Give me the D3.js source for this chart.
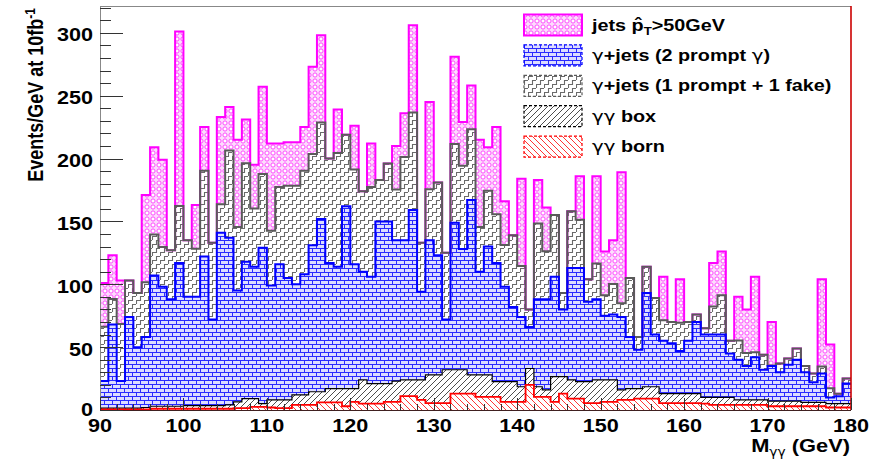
<!DOCTYPE html>
<html><head><meta charset="utf-8">
<script src="https://cdn.jsdelivr.net/npm/d3@7"></script>
<style>
body{margin:0;background:#fff}
svg{display:block}
text{font-family:"Liberation Sans",Arial,Helvetica,sans-serif;font-weight:bold;fill:#000}
.gr{font-family:"DejaVu Sans",sans-serif;font-weight:normal}
</style>
</head><body>
<svg id="c" width="869" height="461"></svg>
<script>
// ---- data: 1 GeV bins from 90 to 180 GeV, Events/GeV at 10 fb^-1 ----
const binLow = d3.range(90, 180);

const born = [0.5,0.5,0.5,0.5,0.5,0.5,1,1,1,1, 1,1,1,1,1,1,1.5,1.5,2.5,2.5,
  2,1.5,1.5,4,4,4,6,6,6,3, 6.5,5,5,5,6.5,6.5,11,11,8,5.5,
  5.5,5.5,13,13,13,10.5,10.5,10.5,6.5,6.5, 6.5,20,10.5,10.5,6.5,13,9,9,5.5,5.5,
  6.5,6.5,8,8,9,9,9,5.5,5.5,5.5, 5.5,5.5,5,4,4,4,4,4,4,4, 3,3,3,3,3,3,3,2,2,2];

const box = [1,1,1,1,1,1.5,2,2,2,2, 2.5,2.5,2.5,2.5,2.5,3,5,7.5,6.5,2.5,
  6,6.5,6.5,8,8,10.5,8.5,11,11,14, 10.5,19,16,16,14.5,16.5,13,13,16,22.5,
  22.5,26.5,19,19,15,17.5,17.5,12,16,16, 12,13,8,5.5,20,13.5,15,13.5,17,18.5,
  17.5,17.5,8,9,8,9.5,9.5,7.5,7.5,7.5, 7.5,7.5,5,6,6,6,4,4,4,4, 4,4,4,4,3,3,3,3,3,3];

const prompt = [21.5,66.5,21.5,72.5,48.5,56,104,95,85,114,
  86.5,86.5,118.5,68.5,137.5,133,88.5,109,105,124,
  91,108,97,88,96,116.5,137.5,100,97,145,
  99,86,85,129,129,112,111,135,70,107,
  95,40,117,96,139,82,102,94.5,75.5,59.5,
  55.5,33,69.5,72,79.5,53.5,89,90.5,63.5,64,
  51,52,58,41,31,74.5,41.5,42,40,34,
  42,57,50,50,50,35,32,27,34,24,
  28,23,29,33,24,16,23,5,6,16];

const fake = [43.3,20.3,45.3,29,43,43.6,32.6,31.6,39,45.2,
  45,38.3,68.3,61,22.6,69.3,50.6,78.3,46.3,58.6,
  43.6,61.3,73.3,78.3,82.3,72.6,76.6,83,90.3,57,
  75.3,64,71.3,33,46,40.3,66.3,77.6,39,40.6,
  58,53,62.6,66.3,56.3,35.6,44.3,38.6,33.3,57,
  40.6,14,60.3,38.3,49,13,45,38.3,18,28.6,
  16.3,24.3,10.9,47,10,21,29,16.3,17,22.3,
  15,6,5,22.3,31.3,10,15.3,10.3,4,12,
  0.3,7,5,9,5,7,5.6,7.3,2,4];

const jets = [34.7,34.7,34.7,0,0,69.4,69.4,69.4,0,138.8,
  0,34.7,34.7,0,69.4,34.7,69.4,34.7,34.7,69.4,
  69.4,34.7,34.7,34.7,34.7,69.4,69.4,0,34.7,0,
  34.7,0,34.7,0,0,34.7,34.7,69.4,0,69.4,
  0,0,69.4,34.7,34.7,69.4,34.7,69.4,34.7,0,
  69.4,0,34.7,34.7,0,0,0,34.7,0,69.4,
  34.7,34.7,104.1,0,0,0,0,34.7,0,34.7,
  0,0,0,34.7,34.7,0,34.7,34.7,60,0,
  34.7,0,0,0,0,0,69.4,34.7,0,0];

const seriesKeys = ["born","box","prompt","fake","jets"];
const xTickLabels = [90,100,110,120,130,140,150,160,170,180];
const yTickLabels = [0,50,100,150,200,250,300];
const yMax = 321.3;

// ---- layout ----
const L = 100, R = 851, T = 6, B = 410;
const svg = d3.select("#c");
const x = d3.scaleLinear().domain([90,180]).range([L,R]);
const y = d3.scaleLinear().domain([0,yMax]).range([B,T]);

const style = {
  jets:   {pat:"pJets",   line:"#ff00ff", w:2,   dash:null},
  prompt: {pat:"pPrompt", line:"#0000ff", w:2,   dash:"3,2"},
  fake:   {pat:"pFake",   line:"#5a5a5a", w:2,   dash:"3,2"},
  box:    {pat:"pBox",    line:"#000000", w:1.2, dash:"3,2"},
  born:   {pat:"pBorn",   line:"#ff0000", w:1.8, dash:"3,2"}
};

// ---- patterns ----
const defs = svg.append("defs");
let p = defs.append("pattern").attr("id","pJets").attr("patternUnits","userSpaceOnUse").attr("width",6).attr("height",6);
p.append("rect").attr("width",6).attr("height",6).attr("fill","#fcdcfc");
p.append("circle").attr("cx",3).attr("cy",3).attr("r",2.1).attr("fill","#fff").attr("stroke","#ff48ff").attr("stroke-width",1);

p = defs.append("pattern").attr("id","pPrompt").attr("patternUnits","userSpaceOnUse").attr("width",8).attr("height",8);
p.append("rect").attr("width",8).attr("height",8).attr("fill","#dcdcff");
p.append("path").attr("d","M0,0.5H8M0,4.5H8M0.5,0V4M4.5,4V8").attr("stroke","#2a2aff").attr("stroke-width",1).attr("fill","none");

p = defs.append("pattern").attr("id","pFake").attr("patternUnits","userSpaceOnUse").attr("width",8).attr("height",8);
p.append("rect").attr("width",8).attr("height",8).attr("fill","#fff");
p.append("path").attr("d","M0.5,8V4.5H4.5V0.5H8").attr("stroke","#6a6a6a").attr("stroke-width",1.1).attr("fill","none");

p = defs.append("pattern").attr("id","pBox").attr("patternUnits","userSpaceOnUse").attr("width",6).attr("height",6);
p.append("rect").attr("width",6).attr("height",6).attr("fill","#fff");
p.append("path").attr("d","M0,6L6,0M-1,1L1,-1M5,7L7,5").attr("stroke","#000").attr("stroke-width",0.7);

p = defs.append("pattern").attr("id","pBorn").attr("patternUnits","userSpaceOnUse").attr("width",6).attr("height",6);
p.append("rect").attr("width",6).attr("height",6).attr("fill","#fff");
p.append("path").attr("d","M0,0L6,6M5,-1L7,1M-1,5L1,7").attr("stroke","#ff0000").attr("stroke-width",0.8);

defs.append("clipPath").attr("id","plotClip").append("rect")
  .attr("x",L).attr("y",T).attr("width",R-L).attr("height",B-T);

// ---- stacked histogram ----
const rows = binLow.map((lo,i)=>({lo, born:born[i], box:box[i], prompt:prompt[i], fake:fake[i], jets:jets[i]}));
const stacked = d3.stack().keys(seriesKeys)(rows);
const stepPts = s => s.flatMap(d => [[d.data.lo, d[0], d[1]], [d.data.lo+1, d[0], d[1]]]);

const area = d3.area().x(q=>x(q[0])).y0(q=>y(q[1])).y1(q=>y(q[2]));
const line = d3.line().x(q=>x(q[0])).y(q=>y(q[2]));

const g = svg.append("g").attr("clip-path","url(#plotClip)");
stacked.forEach(s => {
  g.append("path").attr("d", area(stepPts(s))).attr("fill", `url(#${style[s.key].pat})`);
});
// outlines: largest cumulative first, like ROOT THStack
stacked.slice().reverse().forEach(s => {
  g.append("path").attr("d", line(stepPts(s))).attr("fill","none")
    .attr("stroke", style[s.key].line).attr("stroke-width", style[s.key].w);
});

// ---- frame ----
svg.append("line").attr("x1",L).attr("x2",R).attr("y1",T+0.5).attr("y2",T+0.5).attr("stroke","#888");
svg.append("line").attr("x1",L+0.5).attr("x2",L+0.5).attr("y1",T).attr("y2",B).attr("stroke","#888");
svg.append("line").attr("x1",R).attr("x2",R).attr("y1",T).attr("y2",B).attr("stroke","#cc0000").attr("stroke-width",1.6);
svg.append("line").attr("x1",L).attr("x2",R).attr("y1",B+0.5).attr("y2",B+0.5).attr("stroke","#402020").attr("stroke-width",1.2);

// ---- ticks ----
const ax = svg.append("g").attr("stroke","#333").attr("stroke-width",1);
d3.range(0, yMax, 10).forEach(v => {
  const len = (v % 50 === 0) ? 23 : 11;
  ax.append("line").attr("x1",L).attr("x2",L+len).attr("y1",Math.round(y(v))+0.5).attr("y2",Math.round(y(v))+0.5);
});
d3.range(90, 181, 2).forEach(v => {
  const len = (v % 10 === 0) ? 12 : 6;
  ax.append("line").attr("x1",Math.round(x(v))+0.5).attr("x2",Math.round(x(v))+0.5).attr("y1",B).attr("y2",B-len);
});

const SX = 1.2;
yTickLabels.forEach(v => {
  svg.append("text").attr("transform",`translate(93,${y(v)+ (v===0 ? 6 : 8.5)}) scale(${SX},1)`)
    .attr("text-anchor","end").attr("font-size",18).text(v);
});
xTickLabels.forEach(v => {
  svg.append("text").attr("transform",`translate(${x(v)},432) scale(${SX},1)`)
    .attr("text-anchor","middle").attr("font-size",18).text(v);
});

// axis titles
const yt = svg.append("text").attr("transform","translate(43,8) rotate(-90) scale(1,1.2)")
  .attr("text-anchor","end").attr("font-size",18);
yt.append("tspan").text("Events/GeV at 10fb");
yt.append("tspan").attr("font-size",12).attr("dy",-7).text("-1");

const xt = svg.append("text").attr("transform","translate(850,452) scale(1.15,1)")
  .attr("text-anchor","end").attr("font-size",19);
xt.append("tspan").text("M");
xt.append("tspan").attr("class","gr").attr("font-size",12).attr("dy",4).text("γγ");
xt.append("tspan").attr("dy",-4).text(" (GeV)");

// ---- legend ----
const legendKeys = ["jets","prompt","fake","box","born"];
const legendLabels = [null, ["γ","+jets (2 prompt ","γ",")"], ["γ","+jets (1 prompt + 1 fake)"], ["γγ"," box"], ["γγ"," born"]];
legendKeys.forEach((k,i) => {
  const by = 30.5 + 30.4*i;
  svg.append("rect").attr("x",524).attr("y",by-16).attr("width",58).attr("height",21)
    .attr("fill",`url(#${style[k].pat})`).attr("stroke",style[k].line)
    .attr("stroke-width", k==="jets" ? 2 : 1.2)
    .attr("stroke-dasharray", style[k].dash);
  const t = svg.append("text").attr("transform",`translate(592,${by}) scale(${SX},1)`).attr("font-size",16.5);
  if (k === "jets") {
    t.append("tspan").text("jets p\u0302");
    t.append("tspan").attr("font-size",11).attr("dy",4).text("T");
    t.append("tspan").attr("dy",-4).text(">50GeV");
  } else {
    legendLabels[i].forEach(part => {
      const ts = t.append("tspan").text(part);
      if (part.startsWith("γ") && !part.includes("+")) ts.attr("class","gr");
    });
  }
});
</script>
</body></html>
